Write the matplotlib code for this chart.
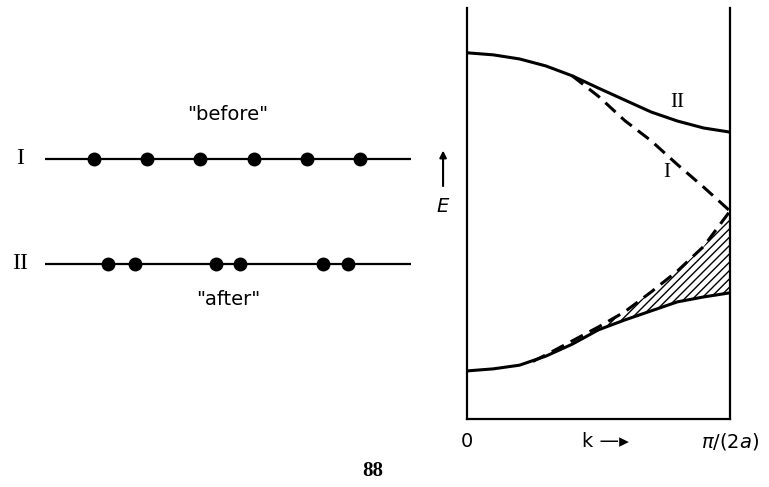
import matplotlib.pyplot as plt
import numpy as np

plt.rcParams["hatch.linewidth"] = 1.0

# left panel: atom positions along the chain (units of the "before" spacing a)
ATOMS_BEFORE = [0.0, 1.0, 2.0, 3.0, 4.0, 5.0]
ATOMS_AFTER = [0.26, 0.77, 2.29, 2.74, 4.30, 4.77]
CHAIN_ENDS = [-0.92, 5.96]

# right panel: band energies (arbitrary units) vs k in units of pi/(2a)
K_FULL = [0.0, 0.1, 0.2, 0.3, 0.4, 0.5, 0.6, 0.7, 0.8, 0.9, 1.0]
E_UPPER_II = [0.891, 0.886, 0.876, 0.859, 0.835, 0.805, 0.776, 0.747, 0.725, 0.708, 0.698]
E_LOWER_II = [0.117, 0.122, 0.131, 0.153, 0.182, 0.217, 0.241, 0.263, 0.285, 0.297, 0.307]

K_UPPER_I = [0.4, 0.5, 0.6, 0.7, 0.8, 0.9, 1.0]
E_UPPER_I = [0.835, 0.785, 0.726, 0.677, 0.619, 0.564, 0.506]

K_LOWER_I = [0.25, 0.3, 0.4, 0.5, 0.6, 0.7, 0.8, 0.9, 1.0]
E_LOWER_I = [0.140, 0.156, 0.190, 0.224, 0.261, 0.309, 0.360, 0.420, 0.506]

HATCH_FROM = 0.5

fig = plt.figure(figsize=(7.69, 4.87), dpi=100)

# ---- left: the chain before and after distortion
ax_chain = fig.add_axes([0, 0, 420 / 769, 1])
ax_chain.set_xlim(-1.767, 6.128)
ax_chain.set_ylim(-2.124, 2.514)
ax_chain.axis("off")

for row, atoms in ((1.0, ATOMS_BEFORE), (0.0, ATOMS_AFTER)):
    ax_chain.plot(CHAIN_ENDS, [row, row], color="black", linewidth=1.6,
                  solid_capstyle="butt")
    ax_chain.plot(atoms, [row] * len(atoms), linestyle="none", marker="o",
                  markersize=9, color="black")

serif = ["Liberation Serif", "DejaVu Serif"]
ax_chain.text(-1.39, 1.0, "I", fontsize=17, family=serif, ha="center", va="center")
ax_chain.text(-1.39, 0.0, "II", fontsize=17, family=serif, ha="center", va="center")
ax_chain.text(2.52, 1.42, '"before"', fontsize=14, ha="center", va="center")
ax_chain.text(2.52, -0.34, '"after"', fontsize=14, ha="center", va="center")

# ---- right: E(k) bands
ax = fig.add_axes([467 / 769, 68 / 487, 263 / 769, 411 / 487])
ax.set_xlim(0, 1)
ax.set_ylim(0, 1)
ax.set_xticks([])
ax.set_yticks([])
ax.spines["top"].set_visible(False)
for side in ("left", "right", "bottom"):
    ax.spines[side].set_linewidth(1.6)

ax.plot(K_FULL, E_UPPER_II, color="black", linewidth=2.2, solid_capstyle="butt")
ax.plot(K_FULL, E_LOWER_II, color="black", linewidth=2.2, solid_capstyle="butt")
ax.plot(K_UPPER_I, E_UPPER_I, color="black", linewidth=2.2, dashes=(4.5, 2.5))
ax.plot(K_LOWER_I, E_LOWER_I, color="black", linewidth=2.2, dashes=(4.5, 2.5))

k_full = np.array(K_FULL)
k_lower = np.array(K_LOWER_I)
sel_full = k_full >= HATCH_FROM
sel_lower = k_lower >= HATCH_FROM
ax.fill_between(k_full[sel_full], np.array(E_LOWER_II)[sel_full],
                np.array(E_LOWER_I)[sel_lower], facecolor="none",
                edgecolor="black", hatch="////", linewidth=0)

ax.text(0.80, 0.771, "II", fontsize=15, family=serif, ha="center", va="center")
ax.text(0.76, 0.599, "I", fontsize=15, family=serif, ha="center", va="center")

ax.text(0.0, -0.054, "0", fontsize=14, ha="center", va="center", clip_on=False)
ax.text(0.525, -0.054, "k \u2014\u25b8", fontsize=14, ha="center", va="center",
        clip_on=False)
ax.text(1.0, -0.054, r"$\pi$/(2$a$)", fontsize=14, ha="center", va="center",
        clip_on=False)

ax.annotate("", xy=(-0.091, 0.66), xytext=(-0.091, 0.56),
            xycoords="data", annotation_clip=False,
            arrowprops=dict(arrowstyle="-|>", color="black", lw=1.5,
                            mutation_scale=10))
ax.text(-0.091, 0.516, "E", fontsize=14, style="italic", ha="center",
        va="center", clip_on=False)

fig.text(373 / 769, 1 - 471 / 487, "88", fontsize=15, family=serif,
         weight="bold", ha="center", va="center")

fig.savefig("out.png", dpi=100)
